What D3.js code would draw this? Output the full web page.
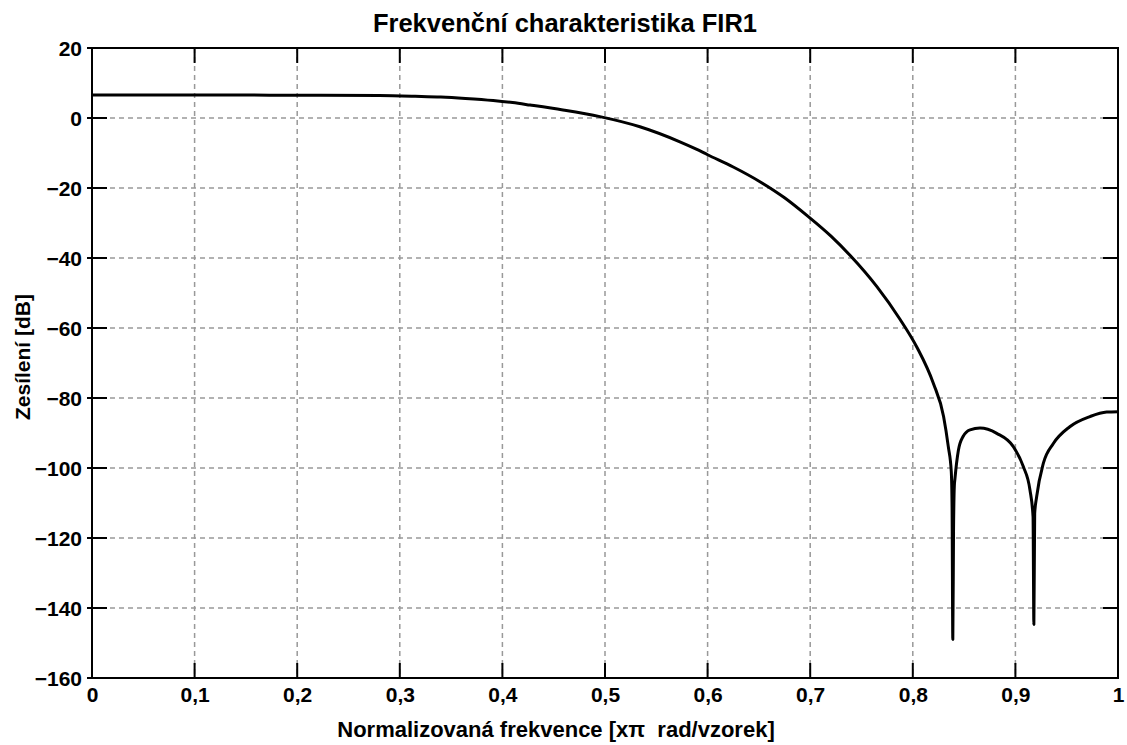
<!DOCTYPE html>
<html>
<head>
<meta charset="utf-8">
<script src="https://cdn.jsdelivr.net/npm/d3@7"></script>
<style>
  body { margin: 0; background: #fff; }
  text { font-family: "Liberation Sans", Arial, sans-serif; font-weight: bold; fill: #000; white-space: pre; }
</style>
</head>
<body>
<svg id="chart"></svg>
<script>
// ---------------------------
// Frekvenční charakteristika FIR1
// ---------------------------

const W = 1127, H = 745;
const margin = { left: 92, top: 48, right: 9, bottom: 67 };

// data
const freq = [0, 0.1, 0.2, 0.28, 0.315, 0.34, 0.364, 0.391, 0.41, 0.427, 0.459, 0.495, 0.534, 0.573,
  0.589, 0.6, 0.625, 0.651, 0.675, 0.697, 0.72, 0.739, 0.765, 0.7875, 0.804, 0.82, 0.83, 0.8346, 0.8375,
  0.8383, 0.839, 0.8397, 0.8405, 0.8411, 0.8444, 0.849, 0.8558, 0.8655, 0.8818, 0.898,
  0.9077, 0.9142, 0.9172, 0.918, 0.9188, 0.9207, 0.9272, 0.937, 0.953, 0.9727, 0.989, 1.0];
const gainDb = [6.6, 6.6, 6.5, 6.4, 6.2, 6.0, 5.6, 5.0, 4.4, 3.7, 2.3, 0.4, -2.5, -6.8,
  -8.9, -10.5, -14.0, -18.2, -22.8, -27.9, -33.7, -39.3, -48.2, -57.5, -65.5, -75.8, -85.3, -93.9, -101,
  -112, -149, -118, -105, -103, -95, -91, -89.1, -88.6, -90.1, -93.9,
  -99.6, -106.3, -113.9, -144.7, -113, -108.2, -98.7, -93, -88.2, -85.3, -84, -83.9];

const xTicks = [0, 0.1, 0.2, 0.3, 0.4, 0.5, 0.6, 0.7, 0.8, 0.9, 1];
const xTickLabels = ["0", "0,1", "0,2", "0,3", "0,4", "0,5", "0,6", "0,7", "0,8", "0,9", "1"];
const yTicks = [20, 0, -20, -40, -60, -80, -100, -120, -140, -160];

const title = "Frekvenční charakteristika FIR1";
const xTitle = "Normalizovaná frekvence [xπ  rad/vzorek]";
const yTitle = "Zesílení [dB]";

const svg = d3.select("#chart").attr("width", W).attr("height", H);
svg.append("rect").attr("width", W).attr("height", H).attr("fill", "#fff");

const x = d3.scaleLinear().domain([0, 1]).range([margin.left, W - margin.right]);
const y = d3.scaleLinear().domain([-160, 20]).range([H - margin.bottom, margin.top]);

const x0 = x.range()[0], x1 = x.range()[1];
const y0 = y.range()[0], y1 = y.range()[1];

// grid
const grid = svg.append("g").attr("stroke", "#999").attr("stroke-width", 1.5)
  .attr("stroke-dasharray", "5,4");
grid.selectAll(".vg").data(xTicks.slice(1, -1)).enter().append("line")
  .attr("x1", d => x(d)).attr("x2", d => x(d)).attr("y1", y1).attr("y2", y0);
grid.selectAll(".hg").data(yTicks.slice(1, -1)).enter().append("line")
  .attr("y1", d => y(d)).attr("y2", d => y(d)).attr("x1", x0).attr("x2", x1);

// curve
const pts = freq.map((f, i) => [f, gainDb[i]]);
svg.append("path")
  .datum(pts)
  .attr("fill", "none")
  .attr("stroke", "#000")
  .attr("stroke-width", 3)
  .attr("stroke-linejoin", "round")
  .attr("d", d3.line().curve(d3.curveMonotoneX).x(d => x(d[0])).y(d => y(d[1])));

// axes: inward ticks on all four sides
const tickLen = 15;
const axX = d3.axisBottom(x).tickValues(xTicks).tickSize(0)
  .tickFormat((d, i) => xTickLabels[i]).tickPadding(8);
const gx = svg.append("g").attr("transform", `translate(0,${y0})`).call(axX);
gx.select(".domain").remove();
gx.selectAll("text").attr("font-size", 21).attr("font-family", null)
  .attr("dy", null).attr("y", 24);

const axY = d3.axisLeft(y).tickValues(yTicks).tickSize(0).tickPadding(10);
const gy = svg.append("g").attr("transform", `translate(${x0},0)`).call(axY);
gy.select(".domain").remove();
gy.selectAll("text").attr("font-size", 21).attr("font-family", null)
  .attr("dy", "0.36em");

const ticks = svg.append("g").attr("stroke", "#000").attr("stroke-width", 2);
ticks.selectAll(".tb").data(xTicks).enter().append("line")
  .attr("x1", d => x(d)).attr("x2", d => x(d)).attr("y1", y0).attr("y2", y0 - tickLen);
ticks.selectAll(".tt").data(xTicks).enter().append("line")
  .attr("x1", d => x(d)).attr("x2", d => x(d)).attr("y1", y1).attr("y2", y1 + tickLen);
ticks.selectAll(".tl").data(yTicks).enter().append("line")
  .attr("y1", d => y(d)).attr("y2", d => y(d)).attr("x1", x0 - 5).attr("x2", x0 + tickLen);
ticks.selectAll(".tr").data(yTicks).enter().append("line")
  .attr("y1", d => y(d)).attr("y2", d => y(d)).attr("x1", x1).attr("x2", x1 - tickLen);

svg.append("rect")
  .attr("x", x0).attr("y", y1).attr("width", x1 - x0).attr("height", y0 - y1)
  .attr("fill", "none").attr("stroke", "#000").attr("stroke-width", 2);

// titles
svg.append("text").attr("x", 565).attr("y", 32)
  .attr("text-anchor", "middle").attr("font-size", 25.5).text(title);
svg.append("text").attr("x", 556).attr("y", 737)
  .attr("text-anchor", "middle").attr("font-size", 22).text(xTitle);
svg.append("text").attr("transform", "translate(30,357) rotate(-90)")
  .attr("text-anchor", "middle").attr("font-size", 21).text(yTitle);
</script>
</body>
</html>
